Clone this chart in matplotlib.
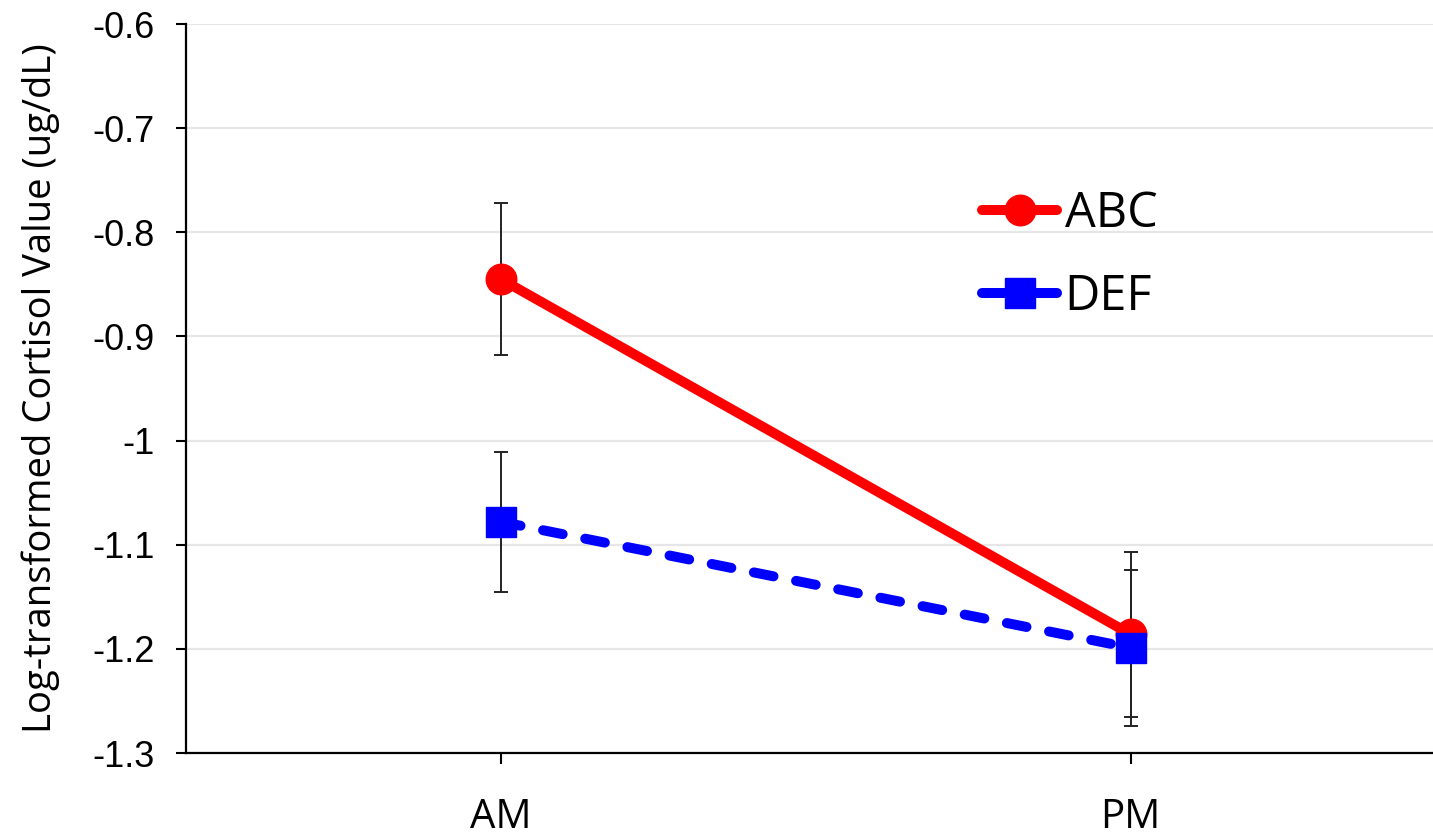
import matplotlib
matplotlib.use("Agg")
import matplotlib.pyplot as plt
from matplotlib.lines import Line2D

# Cortisol means and standard errors per group
times = ["AM", "PM"]
abc_mean = [-0.845, -1.186]
abc_err = [0.073, 0.079]
def_mean = [-1.078, -1.199]
def_err = [0.067, 0.075]
y_ticks = [-1.3, -1.2, -1.1, -1.0, -0.9, -0.8, -0.7, -0.6]
y_tick_labels = ["-1.3", "-1.2", "-1.1", "-1", "-0.9", "-0.8", "-0.7", "-0.6"]

label_font = "Open Sans"
tick_font = "Liberation Sans"

fig = plt.figure(figsize=(14.33, 8.34), dpi=100)
ax = fig.add_axes([186 / 1433, 81 / 834, 1247 / 1433, 729 / 834])

x = list(range(len(times)))

# error bars first so the markers sit on top
ax.errorbar(x, abc_mean, yerr=abc_err, fmt="none", ecolor="#222222",
            elinewidth=1.4, capsize=4.7, capthick=1.4, zorder=3)
ax.errorbar(x, def_mean, yerr=def_err, fmt="none", ecolor="#222222",
            elinewidth=1.4, capsize=4.7, capthick=1.4, zorder=3)

ax.plot(x, abc_mean, color="#ff0000", lw=7.2, solid_capstyle="round",
        marker="o", markersize=22, zorder=4)
ax.plot(x, def_mean, color="#0000ff", lw=7.2, dashes=(2.0, 2.3),
        dash_capstyle="round", marker="s", markersize=22, zorder=5)

ax.set_xlim(-0.5, 1.48)
ax.set_ylim(-1.3, -0.6)
ax.set_xticks(x)
ax.set_xticklabels(times, fontsize=29, family=label_font)
ax.set_yticks(y_ticks)
ax.set_yticklabels(y_tick_labels, fontsize=26, family=tick_font)

ax.tick_params(axis="y", length=7, width=1.5, pad=15.5, direction="out")
ax.tick_params(axis="x", length=8, width=1.5, pad=24, direction="out")

ax.grid(axis="y", color="#e6e6e6", lw=1.6, zorder=0)
ax.set_axisbelow(True)
for side in ["top", "right"]:
    ax.spines[side].set_visible(False)
for side in ["left", "bottom"]:
    ax.spines[side].set_linewidth(1.6)
    ax.spines[side].set_color("black")

ax.set_ylabel("Log-transformed Cortisol Value (ug/dL)", fontsize=27.5,
              family=label_font, labelpad=23)

handles = [
    Line2D([], [], color="#ff0000", lw=7.2, solid_capstyle="round",
           marker="o", markersize=22),
    Line2D([], [], color="#0000ff", lw=7.2, solid_capstyle="round",
           marker="s", markersize=22),
]
ax.legend(handles, ["ABC", "DEF"], loc="center left",
          bbox_to_anchor=(982 / 1433, 1 - 256 / 834),
          bbox_transform=fig.transFigure, frameon=False, borderpad=0,
          borderaxespad=0, handlelength=1.55, handletextpad=0.15,
          labelspacing=0.68, prop={"family": label_font, "size": 35})

fig.savefig("out.png", dpi=100)
